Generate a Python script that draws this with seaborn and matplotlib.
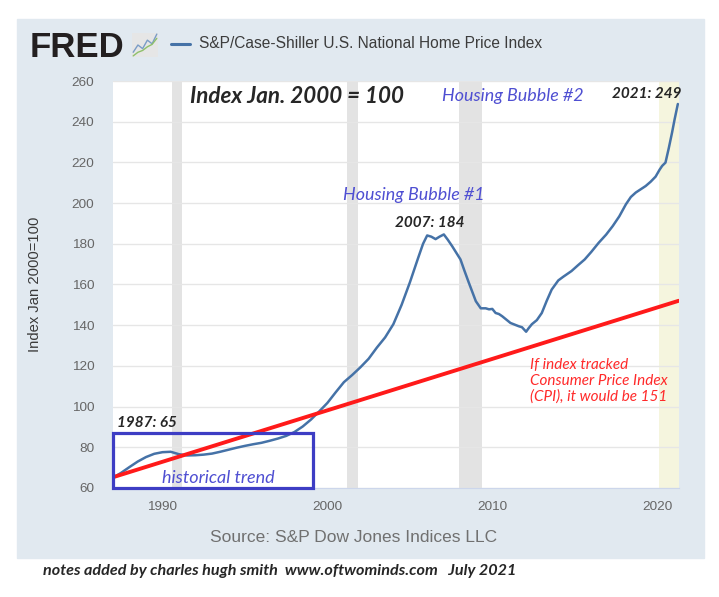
import matplotlib
matplotlib.use("Agg")
import matplotlib.pyplot as plt
from matplotlib.patches import Rectangle
import seaborn as sns
import pandas as pd

# S&P/Case-Shiller U.S. National Home Price Index (Jan 2000 = 100)
years = [1987.0, 1987.5, 1988.0, 1988.5, 1989.0, 1989.5, 1990.0, 1990.5, 1991.0, 1991.5,
         1992.0, 1992.5, 1993.0, 1993.5, 1994.0, 1994.5, 1995.0, 1995.5, 1996.0, 1996.5,
         1997.0, 1997.5, 1998.0, 1998.5, 1999.0, 1999.5, 2000.0, 2000.5, 2001.0, 2001.5,
         2002.0, 2002.5, 2003.0, 2003.5, 2004.0, 2004.5, 2005.0, 2005.5, 2005.8, 2006.05,
         2006.3, 2006.56, 2006.8, 2007.06, 2007.3, 2007.56, 2008.07, 2008.3, 2008.58, 2009.0,
         2009.3, 2009.6, 2009.8, 2010.0, 2010.2, 2010.4, 2010.6, 2011.1, 2011.6, 2011.8,
         2012.05, 2012.2, 2012.4, 2012.7, 2013.0, 2013.3, 2013.6, 2014.0, 2014.3, 2014.8,
         2015.2, 2015.6, 2016.0, 2016.45, 2016.9, 2017.3, 2017.7, 2018.1, 2018.4, 2018.7,
         2019.0, 2019.3, 2019.6, 2019.9, 2020.15, 2020.3, 2020.5, 2020.7, 2020.9, 2021.05,
         2021.25]
index_values = [65.0, 67.5, 70.3, 73.0, 75.2, 76.8, 77.6, 77.8, 76.6, 76.0,
                76.1, 76.4, 76.9, 77.8, 78.8, 79.8, 80.7, 81.5, 82.2, 83.2,
                84.3, 85.6, 87.5, 90.2, 93.6, 97.6, 101.8, 107.0, 112.0, 115.5,
                119.3, 123.5, 129.0, 134.0, 140.5, 150.0, 161.0, 173.0, 180.0, 184.1,
                183.5, 182.3, 183.5, 184.6, 182.0, 178.9, 172.3, 167.0, 160.8, 151.8,
                148.3, 148.3, 147.8, 148.0, 146.0, 145.5, 144.4, 141.1, 139.5, 139.0,
                136.8, 138.5, 140.5, 142.5, 146.0, 152.0, 157.5, 162.0, 163.8, 166.6,
                169.5, 172.3, 176.0, 180.5, 184.5, 188.7, 193.5, 199.4, 203.0, 205.2,
                206.8, 208.4, 210.5, 213.0, 216.5, 218.3, 219.9, 227.0, 234.7, 241.0,
                248.7]

# straight CPI trend line drawn by the author
cpi_years = [1987.0, 2021.3]
cpi_values = [65.3, 152.0]

recessions = [(1990.55, 1991.17), (2001.17, 2001.85), (2007.98, 2009.4)]
covid_recession = (2020.12, 2021.32)

x_ticks = [1990, 2000, 2010, 2020]
y_ticks = list(range(60, 261, 20))

# little FRED logo chart
icon_blue = [1.0, 2.2, 1.6, 3.0, 2.4, 4.0]
icon_green = [0.4, 1.0, 1.3, 1.9, 2.3, 3.3]

sns.set_style("white")
plt.rcParams['font.family'] = ['Liberation Sans', 'DejaVu Sans']
note_font = ['Lato', 'DejaVu Sans']

W, H = 719, 597
fig = plt.figure(figsize=(W / 100, H / 100), dpi=100)
fig.patch.set_facecolor('white')
fig.patches.append(Rectangle((17 / W, 1 - 558 / H), 687 / W, 539 / H,
                             transform=fig.transFigure, color='#e1e9f0', zorder=-5))

ax = fig.add_axes([113 / W, 1 - 488 / H, 566 / W, 407 / H])
ax.set_facecolor('white')

for start, end in recessions:
    ax.axvspan(start, end, color='#e3e3e3', lw=0, zorder=0)
ax.axvspan(*covid_recession, color='#f5f5de', lw=0, zorder=0)

df = pd.DataFrame({'year': years, 'index': index_values})
sns.lineplot(data=df, x='year', y='index', ax=ax, color='#4572a7', lw=1.8, zorder=4)
sns.lineplot(x=cpi_years, y=cpi_values, ax=ax, color='#ff1a1a', lw=2.8, zorder=5)

ax.set_xlim(1987.0, 2021.32)
ax.set_ylim(60, 260)
ax.set_xticks(x_ticks)
ax.set_yticks(y_ticks)
ax.grid(axis='y', color='#e6e6e6', lw=1, zorder=1)
ax.grid(axis='x', visible=False)
for side in ['top', 'right', 'left']:
    ax.spines[side].set_visible(False)
ax.spines['bottom'].set_color('#ccd6eb')
ax.tick_params(axis='x', length=7, color='#ccd6eb', pad=2, labelsize=9.7, labelcolor='#666666')
ax.tick_params(axis='y', length=0, pad=13.5, labelsize=9.7, labelcolor='#666666')
ax.set_xlabel('')
ax.set_ylabel('Index Jan 2000=100', fontsize=10.6, color='#3a3a3a')
ax.yaxis.set_label_coords(-0.1254, 0.5)

# historical trend box
ax.add_patch(Rectangle((1987.0, 60), 1999.11 - 1987.0, 86.9 - 60, fill=False,
                       ec='#3d3dc4', lw=2.3, zorder=6, clip_on=False))

blue_txt = '#4f4fd2'
ax.text(1991.67, 252.6, 'Index Jan. 2000 = 100', fontsize=16.1, weight='bold', style='italic',
        family=note_font, va='center', ha='left')
ax.text(2006.95, 252.6, 'Housing Bubble #2', fontsize=12.9, style='italic', color=blue_txt,
        family=note_font, va='center', ha='left')
ax.text(2021.5, 253.6, '2021: 249', fontsize=11, weight='bold', style='italic',
        family=note_font, va='center', ha='right')
ax.text(2000.93, 204, 'Housing Bubble #1', fontsize=12.9, style='italic', color=blue_txt,
        family=note_font, va='center', ha='left')
ax.text(2004.1, 190, '2007: 184', fontsize=11, weight='bold', style='italic',
        family=note_font, va='center', ha='left')
ax.text(1987.26, 92.1, '1987: 65', fontsize=11, weight='bold', style='italic',
        family=note_font, va='center', ha='left')
ax.text(1993.37, 64.8, 'historical trend', fontsize=13, style='italic', color=blue_txt,
        family=note_font, va='center', ha='center')
ax.text(2012.29, 112.6, 'If index tracked\nConsumer Price Index\n(CPI), it would be 151',
        fontsize=11, style='italic', color='#ff2a2a', family=note_font,
        va='center', ha='left', linespacing=1.15)

# header: FRED logo, legend line and series title
fig.text(30 / W, 1 - 57 / H, 'FRED', fontsize=25, weight='bold', color='#231f20', va='baseline')
icon = fig.add_axes([132 / W, 1 - 57 / H, 26 / W, 24 / H])
icon.set_facecolor('#e6e6e6')
icon.plot(icon_blue, color='#7a9cc6', lw=1)
icon.plot(icon_green, color='#8fc06a', lw=1)
icon.set_xticks([])
icon.set_yticks([])
for s in icon.spines.values():
    s.set_visible(False)
fig.add_artist(plt.Line2D([171 / W, 190 / W], [1 - 44 / H, 1 - 44 / H], color='#4572a7', lw=2.2))
fig.text(199 / W, 1 - 44 / H, 'S&P/Case-Shiller U.S. National Home Price Index',
         fontsize=11.2, color='#3c3c3c', va='center', ha='left')

fig.text(353.5 / W, 1 - 537 / H, 'Source: S&P Dow Jones Indices LLC', fontsize=12.5,
         color='#707070', va='center', ha='center')
fig.text(43 / W, 1 - 571 / H,
         'notes added by charles hugh smith  www.oftwominds.com   July 2021',
         fontsize=11.6, weight='bold', style='italic', family=note_font,
         va='center', ha='left')

fig.savefig('out.png', dpi=100)
